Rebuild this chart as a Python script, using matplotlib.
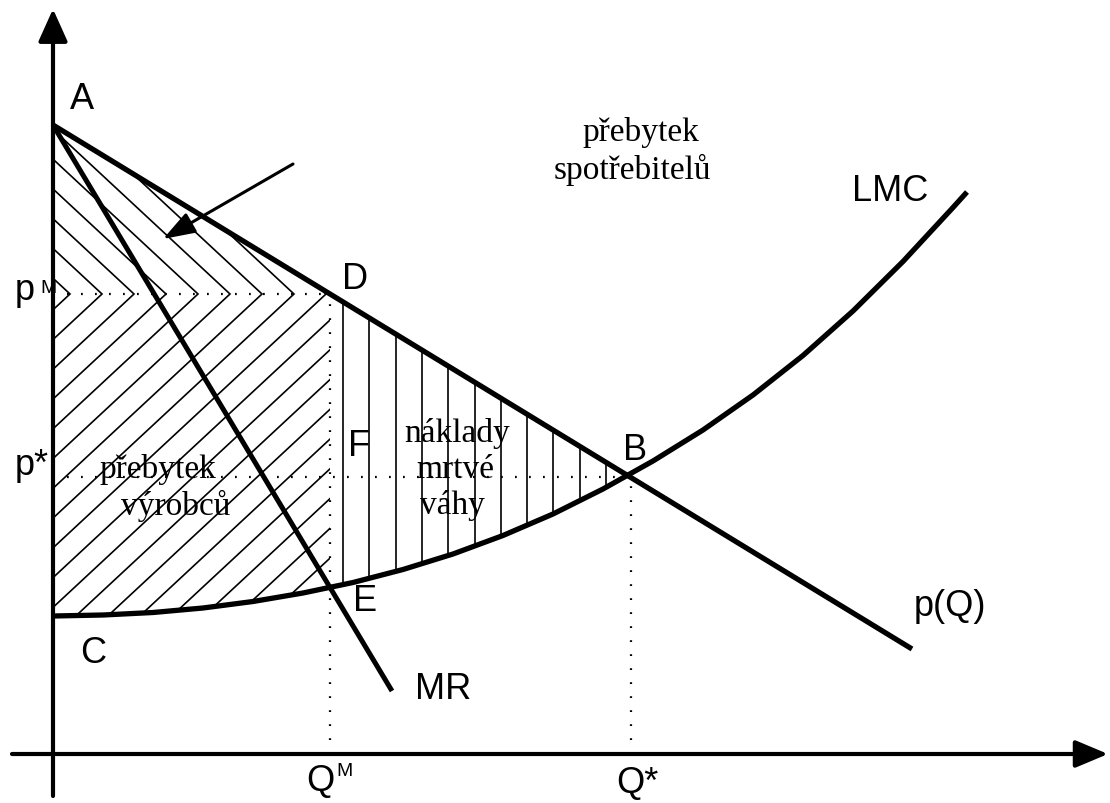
import numpy as np
import matplotlib
matplotlib.use('Agg')
import matplotlib.pyplot as plt
from matplotlib.patches import Polygon

# ---- data (quantity Q, price p) in diagram units ----
DEMAND_Q = [0.0, 8.59]
DEMAND_P = [6.29, 1.05]
MR_Q = [0.0, 3.39]
MR_P = [6.29, 0.63]
LMC_Q = [0.0, 0.5, 1.0, 1.5, 2.0, 2.5, 3.0, 3.5, 4.0, 4.5, 5.0, 5.5, 6.0,
         6.5, 7.0, 7.5, 8.0, 8.5, 9.0, 9.14]
LMC_P = [1.38, 1.39, 1.415, 1.46, 1.525, 1.61, 1.715, 1.845, 2.00, 2.185,
         2.40, 2.65, 2.93, 3.24, 3.59, 3.985, 4.43, 4.925, 5.465, 5.62]
Q_M, Q_STAR = 2.77, 5.78
P_M, P_STAR = 4.60, 2.77

SANS = 'Liberation Sans'
SERIF = 'Liberation Serif'

fig = plt.figure(figsize=(11.10, 8.04), dpi=100)
ax = fig.add_axes([0, 0, 1, 1])
ax.set_xlim(-0.53, 10.57)
ax.set_ylim(-0.49, 7.55)
ax.axis('off')

# ---- axes with arrows ----
ax.annotate('', xy=(0, 7.45), xytext=(0, -0.42),
            arrowprops=dict(arrowstyle='-|>,head_length=1.0,head_width=0.45',
                            lw=3.0, color='k', shrinkA=0, shrinkB=0,
                            mutation_scale=20))
ax.annotate('', xy=(10.55, 0), xytext=(-0.41, 0),
            arrowprops=dict(arrowstyle='-|>,head_length=1.0,head_width=0.42',
                            lw=3.0, color='k', shrinkA=0, shrinkB=0,
                            mutation_scale=20))

lmc_q = np.array(LMC_Q)
lmc_p = np.array(LMC_P)
dem_at = lambda q: np.interp(q, DEMAND_Q, DEMAND_P)
lmc_at = lambda q: np.interp(q, lmc_q, lmc_p)

# ---- regions ----
cs_poly = Polygon([(0, DEMAND_P[0]), (Q_M, dem_at(Q_M)), (0, P_M)],
                  closed=True, fill=False, edgecolor='none')
ps_pts = [(0, P_M), (Q_M, P_M), (Q_M, lmc_at(Q_M))]
ps_pts += [(q, p) for q, p in zip(lmc_q[::-1], lmc_p[::-1]) if q < Q_M]
ps_poly = Polygon(ps_pts, closed=True, fill=False, edgecolor='none')
dw_pts = [(Q_M, dem_at(Q_M)), (Q_STAR, dem_at(Q_STAR))]
dw_pts += [(q, p) for q, p in zip(lmc_q[::-1], lmc_p[::-1]) if Q_M < q < Q_STAR]
dw_pts += [(Q_M, lmc_at(Q_M))]
dw_poly = Polygon(dw_pts, closed=True, fill=False, edgecolor='none')
for pg in (cs_poly, ps_poly, dw_poly):
    ax.add_patch(pg)

HATCH_LW = 1.2
slope = 0.93
gap = 0.32
first_tip = 0.17
for k in range(-3, 25):
    t = first_tip + gap * k
    l1, = ax.plot([t - 10, t], [P_M + slope * 10, P_M], color='k', lw=HATCH_LW)
    l1.set_clip_path(cs_poly)
    l2, = ax.plot([t - 10, t], [P_M - slope * 10, P_M], color='k', lw=HATCH_LW)
    l2.set_clip_path(ps_poly)

vgap = 0.263
q = 2.90
while q < Q_STAR:
    lv, = ax.plot([q, q], [0, 7], color='k', lw=HATCH_LW)
    lv.set_clip_path(dw_poly)
    q += vgap

# ---- dotted guide lines ----
dot = dict(color='k', lw=1.6, ls=(0, (0.8, 5.5)))
ax.plot([0, Q_M], [P_M, P_M], **dot)
ax.plot([0, Q_STAR], [P_STAR, P_STAR], **dot)
ax.plot([Q_M, Q_M], [0, P_M - 0.1], **dot)
ax.plot([Q_STAR, Q_STAR], [0, P_STAR], **dot)

# ---- curves ----
ax.plot(DEMAND_Q, DEMAND_P, color='k', lw=3.8, solid_capstyle='butt')
ax.plot(MR_Q, MR_P, color='k', lw=3.6, solid_capstyle='butt')
ax.plot(LMC_Q, LMC_P, color='k', lw=3.8, solid_capstyle='butt',
        solid_joinstyle='round')

# ---- annotation arrow ----
ax.annotate('', xy=(1.10, 5.15), xytext=(2.40, 5.90),
            arrowprops=dict(arrowstyle='-|>,head_length=1.3,head_width=0.45',
                            lw=2.2, color='k', shrinkA=0, shrinkB=0,
                            mutation_scale=15))

# ---- labels ----
fs = 26
sfs = 24
def lab(x, y, s, size=fs, family=SANS, ha='center', va='center'):
    ax.text(x, y, s, fontsize=size, family=family, ha=ha, va=va, color='k')

lab(0.29, 6.55, 'A')
lab(3.02, 4.75, 'D')
lab(3.06, 3.08, 'F')
lab(5.82, 3.04, 'B')
lab(3.12, 1.53, 'E')
lab(0.40, 1.01, 'C')
lab(3.90, 0.65, 'MR')
lab(8.37, 5.63, 'LMC')
lab(8.97, 1.48, 'p(Q)')
lab(-0.38, 4.55, 'p', ha='left', va='baseline')
lab(-0.13, 4.62, 'M', size=14, ha='left', va='baseline')
lab(-0.38, 2.80, 'p*', ha='left', va='baseline')
lab(2.67, -0.27, 'Q')
lab(2.91, -0.17, 'M', size=14)
lab(5.84, -0.29, 'Q*')

lab(5.88, 6.22, 'přebytek', size=sfs, family=SERIF)
lab(5.79, 5.85, 'spotřebitelů', size=sfs, family=SERIF)
lab(1.05, 2.77, 'přebytek', size=sfs, family=SERIF, va='baseline')
lab(1.23, 2.40, 'výrobců', size=sfs, family=SERIF, va='baseline')
lab(4.04, 3.13, 'náklady', size=sfs, family=SERIF, va='baseline')
lab(4.02, 2.77, 'mrtvé', size=sfs, family=SERIF, va='baseline')
lab(3.99, 2.41, 'váhy', size=sfs, family=SERIF, va='baseline')

fig.savefig('out.png', dpi=100)
